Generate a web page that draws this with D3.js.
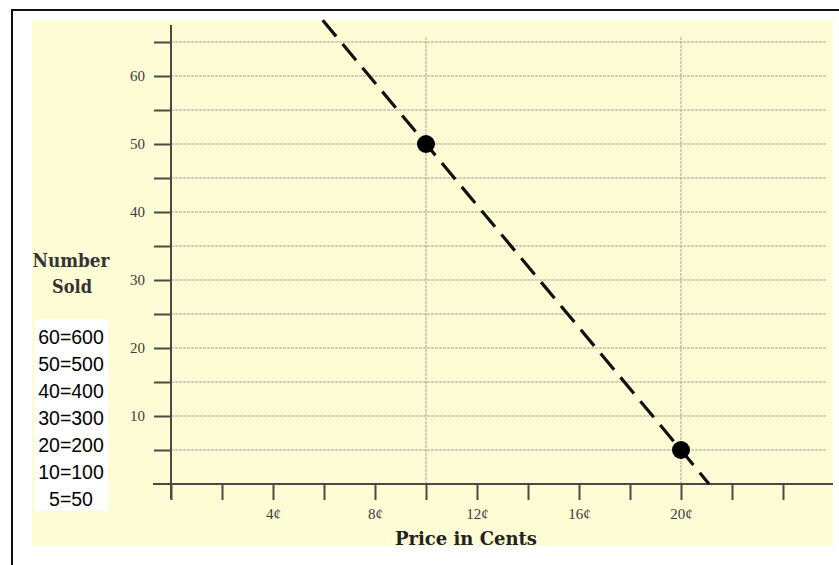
<!DOCTYPE html>
<html><head><meta charset="utf-8">
<script src="https://cdn.jsdelivr.net/npm/d3@7"></script>
<style>html,body{margin:0;padding:0;background:#fff;}svg{display:block;}</style>
</head><body>
<svg id="c" width="839" height="565"></svg>
<script>
// ---- data ----
const pointPrices = [10, 20];            // cents
const pointSold = [50, 5];               // number sold (x10)
const linePrices = [5.95, 10, 20, 21.1]; // dashed demand line
const lineSold = [68.2, 50, 5, 0];
const xTickValues = [0, 2, 4, 6, 8, 10, 12, 14, 16, 18, 20, 22, 24];
const xTickLabels = ["", "", "4¢", "", "8¢", "", "12¢", "", "16¢", "", "20¢", "", ""];
const yTickValues = [5, 10, 15, 20, 25, 30, 35, 40, 45, 50, 55, 60, 65];
const yTickLabels = ["", "10", "", "20", "", "30", "", "40", "", "50", "", "60", ""];
const xGridValues = [10, 20];
const legendLines = ["60=600", "50=500", "40=400", "30=300", "20=200", "10=100", "5=50"];
const xTitle = "Price in Cents";
const yTitle = ["Number", "Sold"];

// ---- layout ----
const svg = d3.select("#c");
const x = d3.scaleLinear().domain([0, 26]).range([171, 834]);
const y = d3.scaleLinear().domain([0, 65]).range([484, 42]);

// outer border and paper
svg.append("rect").attr("x", 12).attr("y", 10).attr("width", 840).attr("height", 570)
  .attr("fill", "#fff").attr("stroke", "#111").attr("stroke-width", 2);
svg.append("rect").attr("x", 32).attr("y", 20).attr("width", 801).attr("height", 526)
  .attr("fill", "#fefcd5");

const gridColor = "#a5a592";
// horizontal grid
svg.append("g").selectAll("line").data(yTickValues).join("line")
  .attr("x1", x(0)).attr("x2", 827)
  .attr("y1", d => y(d)).attr("y2", d => y(d))
  .attr("stroke", gridColor).attr("stroke-width", 1).attr("stroke-dasharray", "3,1");
// vertical grid
svg.append("g").selectAll("line").data(xGridValues).join("line")
  .attr("x1", d => x(d)).attr("x2", d => x(d))
  .attr("y1", 37).attr("y2", y(0))
  .attr("stroke", gridColor).attr("stroke-width", 1).attr("stroke-dasharray", "3,1");

const axisColor = "#4a4a44";
const labelFont = "'Liberation Serif', serif";
// y axis
const yAxis = d3.axisLeft(y).tickValues(yTickValues)
  .tickFormat((d, i) => yTickLabels[i]).tickSize(17).tickPadding(9);
const gy = svg.append("g").attr("transform", `translate(${x(0)},0)`).call(yAxis);
gy.select(".domain").remove();
gy.selectAll(".tick line").attr("stroke", axisColor).attr("stroke-width", 2);
gy.selectAll(".tick text").attr("fill", "#3a3a3a")
  .attr("font-family", labelFont).attr("font-size", 15);
svg.append("line").attr("x1", x(0)).attr("x2", x(0)).attr("y1", 25).attr("y2", 499)
  .attr("stroke", axisColor).attr("stroke-width", 2);

// x axis
const xAxis = d3.axisBottom(x).tickValues(xTickValues)
  .tickFormat((d, i) => xTickLabels[i]).tickSize(16).tickPadding(8);
const gx = svg.append("g").attr("transform", `translate(0,${y(0)})`).call(xAxis);
gx.select(".domain").remove();
gx.selectAll(".tick line").attr("stroke", axisColor).attr("stroke-width", 2);
gx.selectAll(".tick text").attr("fill", "#3a3a3a")
  .attr("font-family", labelFont).attr("font-size", 15);
svg.append("line").attr("x1", 153).attr("x2", 833).attr("y1", y(0)).attr("y2", y(0))
  .attr("stroke", axisColor).attr("stroke-width", 2);

// dashed line
const lineData = linePrices.map((p, i) => [p, lineSold[i]]);
svg.append("path").datum(lineData)
  .attr("d", d3.line().x(d => x(d[0])).y(d => y(d[1])))
  .attr("fill", "none").attr("stroke", "#111").attr("stroke-width", 3.2)
  .attr("stroke-dasharray", "21,10");

// points
svg.append("g").selectAll("circle").data(pointPrices).join("circle")
  .attr("cx", d => x(d)).attr("cy", (d, i) => y(pointSold[i]))
  .attr("r", 9).attr("fill", "#000");

// titles
svg.append("text").attr("x", 466).attr("y", 545).attr("text-anchor", "middle")
  .attr("font-family", "'DejaVu Serif', serif").attr("font-weight", "bold")
  .attr("font-size", 18).attr("fill", "#222")
  .attr("textLength", 142).attr("lengthAdjust", "spacingAndGlyphs").text(xTitle);
const yt = svg.append("g").attr("font-family", "'DejaVu Serif', serif")
  .attr("font-weight", "bold").attr("font-size", 18).attr("fill", "#333");
yt.append("text").attr("x", 71).attr("y", 267).attr("text-anchor", "middle")
  .attr("textLength", 77).attr("lengthAdjust", "spacingAndGlyphs").text(yTitle[0]);
yt.append("text").attr("x", 72).attr("y", 293).attr("text-anchor", "middle")
  .attr("textLength", 40).attr("lengthAdjust", "spacingAndGlyphs").text(yTitle[1]);

// legend box
svg.append("rect").attr("x", 35).attr("y", 319).attr("width", 73).attr("height", 192).attr("fill", "#fff");
svg.append("g").selectAll("text").data(legendLines).join("text")
  .attr("x", 71).attr("y", (d, i) => 344 + i * 27).attr("text-anchor", "middle")
  .attr("font-family", "'Liberation Sans', Arial, sans-serif").attr("font-size", 19.5)
  .attr("fill", "#000").text(d => d);
</script>
</body></html>
